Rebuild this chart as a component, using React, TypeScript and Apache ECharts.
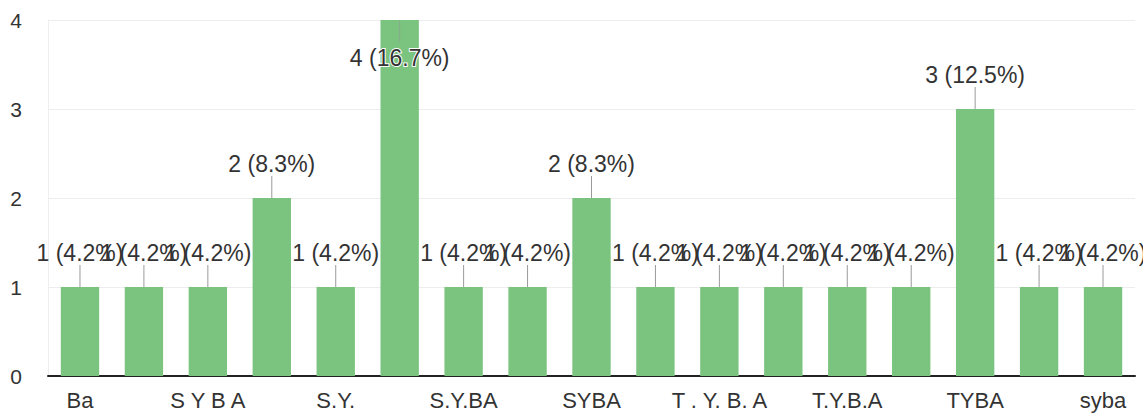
import React, { useEffect, useRef } from "react";
import * as echarts from "echarts";

const categories = [
  "Ba", "B.A", "S Y B A", "S.Y.B.A", "S.Y.", "S.Y.B.A.", "S.Y.BA", "S.YBA", "SYBA",
  "T.Y", "T . Y. B. A", "T.Y.B A", "T.Y.B.A", "T.Y.BA", "TYBA", "Tyba", "syba",
];
const counts = [1, 1, 1, 2, 1, 4, 1, 1, 2, 1, 1, 1, 1, 1, 3, 1, 1];
const yTicks = { min: 0, max: 4, interval: 1 };

export default function App() {
  const ref = useRef<HTMLDivElement>(null);
  useEffect(() => {
    document.body.style.margin = "0";
    if (!ref.current) return;
    const chart = echarts.init(ref.current, undefined, { renderer: "svg" });
    const total = counts.reduce((a, b) => a + b, 0);
    const maxV = Math.max(...counts);
    const font = "'Liberation Sans', Arial, sans-serif";
    chart.setOption({
      animation: false,
      backgroundColor: "#ffffff",
      grid: { left: 48, right: 8, top: 20, bottom: 40, containLabel: false },
      xAxis: {
        type: "category",
        data: categories,
        axisLine: { show: true, lineStyle: { color: "#222", width: 2 } },
        axisTick: { show: false },
        axisLabel: {
          interval: 1,
          color: "#333",
          fontSize: 22,
          fontFamily: font,
          margin: 13,
        },
        splitLine: { show: false },
      },
      yAxis: {
        type: "value",
        min: yTicks.min,
        max: yTicks.max,
        interval: yTicks.interval,
        axisLine: { show: true, lineStyle: { color: "#eeeeee", width: 1 } },
        axisTick: { show: false },
        axisLabel: { color: "#333", fontSize: 21, fontFamily: font, margin: 26 },
        splitLine: { show: true, lineStyle: { color: "#ededed", width: 1 } },
      },
      series: [
        {
          type: "bar",
          data: counts.map((v) =>
            v === maxV
              ? {
                  value: v,
                  label: {
                    position: "insideTop",
                    distance: 26,
                    textBorderColor: "#ffffff",
                    textBorderWidth: 2,
                  },
                }
              : v
          ),
          barCategoryGap: "40%",
          itemStyle: { color: "#7bc47f" },
          label: {
            show: true,
            position: "top",
            distance: 23,
            color: "#333",
            fontSize: 23,
            fontFamily: font,
            formatter: (p: any) =>
              `${p.value} (${((p.value / total) * 100).toFixed(1)}%)`,
          },
          labelLayout: { hideOverlap: false },
          z: 2,
        },
        {
          type: "custom",
          data: counts.map((v, i) => [i, v]),
          encode: { x: 0, y: 1 },
          silent: true,
          z: 3,
          renderItem: (params: any, api: any) => {
            const p = api.coord([api.value(0), api.value(1)]);
            const top = params.coordSys.y;
            const len = 22;
            let y2 = p[1] - len;
            let stroke = "#9a9a9a";
            if (y2 < top) {
              y2 = p[1] + len;
              stroke = "rgba(150,150,150,0.6)";
            }
            return {
              type: "line",
              shape: { x1: p[0], y1: p[1], x2: p[0], y2 },
              style: { stroke, lineWidth: 1 },
            };
          },
        },
      ],
    });
    return () => chart.dispose();
  }, []);
  return <div ref={ref} style={{ width: 1143, height: 416 }} />;
}
